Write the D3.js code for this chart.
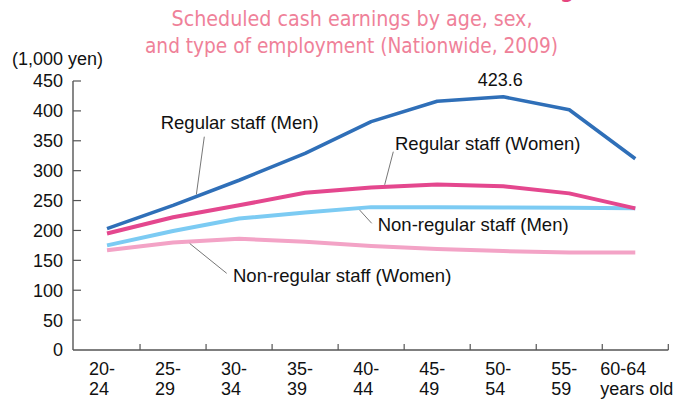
<!DOCTYPE html>
<html>
<head>
<meta charset="utf-8">
<script src="https://cdn.jsdelivr.net/npm/d3@7"></script>
<style>
    body { margin: 0; background: #fff; }
    svg { display: block; font-family: "Liberation Sans", Arial, sans-serif; }
</style>
</head>
<body>
<svg width="691" height="400"></svg>
<script>
// age groups on the x axis (two text lines each)
let ageGroups = ["20-24", "25-29", "30-34", "35-39", "40-44", "45-49", "50-54", "55-59", "60-64"];
let ageLine1 = ["20-", "25-", "30-", "35-", "40-", "45-", "50-", "55-", "60-64"];
let ageLine2 = ["24", "29", "34", "39", "44", "49", "54", "59", "years old"];

// scheduled cash earnings, 1,000 yen
let regularMen = [203, 242, 284, 329, 382, 416, 423.6, 402, 320];
let regularWomen = [195, 222, 242, 263, 272, 277, 274, 262, 237];
let nonRegularMen = [175, 199, 220, 230, 239, 239, 238.5, 238, 237];
let nonRegularWomen = [167, 180, 186, 181, 174, 169, 165.5, 163, 163];

let seriesNames = ["Regular staff (Men)", "Regular staff (Women)", "Non-regular staff (Men)", "Non-regular staff (Women)"];
let yTicks = [0, 50, 100, 150, 200, 250, 300, 350, 400, 450];

let series = [
    { name: seriesNames[3], values: nonRegularWomen, color: "#f3a3c6", width: 4 },
    { name: seriesNames[2], values: nonRegularMen, color: "#7ccbf3", width: 4 },
    { name: seriesNames[1], values: regularWomen, color: "#e4478e", width: 4 },
    { name: seriesNames[0], values: regularMen, color: "#2f6fb8", width: 3.6 }
];

var svg = d3.select("svg");

var x = d3.scaleBand()
    .domain(ageGroups)
    .range([74, 668.3]);

var y = d3.scaleLinear()
    .domain([0, 450])
    .range([350, 81]);

function cx(i) {
    return x(ageGroups[i]) + x.bandwidth() / 2;
}

// title
var title = svg.append("g")
    .attr("fill", "#ef8199")
    .attr("font-family", "'Liberation Sans Narrow', 'DejaVu Sans Condensed', sans-serif")
    .attr("font-size", 21);

title.append("text")
    .attr("x", 567).attr("y", -2)
    .attr("text-anchor", "middle")
    .attr("font-weight", "bold")
    .attr("fill", "#e5457f")
    .attr("font-size", 22)
    .text("g");

title.append("text")
    .attr("x", 171.5).attr("y", 26)
    .attr("textLength", 361)
    .attr("lengthAdjust", "spacingAndGlyphs")
    .text("Scheduled cash earnings by age, sex,");

title.append("text")
    .attr("x", 145).attr("y", 53)
    .attr("textLength", 413)
    .attr("lengthAdjust", "spacingAndGlyphs")
    .text("and type of employment (Nationwide, 2009)");

// unit
svg.append("text")
    .attr("x", 12).attr("y", 65)
    .attr("font-size", 18)
    .attr("fill", "#111")
    .text("(1,000 yen)");

// y axis
var yAxis = svg.append("g");
yAxis.append("line")
    .attr("x1", 73).attr("x2", 73)
    .attr("y1", y(450)).attr("y2", y(0))
    .attr("stroke", "#555").attr("stroke-width", 1.4);

yAxis.selectAll(".ytick")
    .data(yTicks.filter(function (d) { return d > 0; }))
    .join("line")
    .attr("class", "ytick")
    .attr("x1", 73).attr("x2", 81)
    .attr("y1", function (d) { return y(d); })
    .attr("y2", function (d) { return y(d); })
    .attr("stroke", "#555").attr("stroke-width", 1.2);

yAxis.selectAll(".ylabel")
    .data(yTicks)
    .join("text")
    .attr("class", "ylabel")
    .attr("x", 63)
    .attr("y", function (d) { return y(d); })
    .attr("dy", "0.36em")
    .attr("text-anchor", "end")
    .attr("font-size", 18)
    .attr("fill", "#111")
    .text(function (d) { return d; });

// x axis
var xAxis = svg.append("g");
xAxis.append("line")
    .attr("x1", 73).attr("x2", x.range()[1])
    .attr("y1", y(0)).attr("y2", y(0))
    .attr("stroke", "#555").attr("stroke-width", 1.4);

xAxis.selectAll(".xtick")
    .data(ageGroups)
    .join("line")
    .attr("class", "xtick")
    .attr("x1", function (d) { return x(d) + x.bandwidth(); })
    .attr("x2", function (d) { return x(d) + x.bandwidth(); })
    .attr("y1", y(0)).attr("y2", y(0) - 6)
    .attr("stroke", "#555").attr("stroke-width", 1.2);

var xLabels = xAxis.selectAll(".xlabel")
    .data(ageGroups)
    .join("text")
    .attr("class", "xlabel")
    .attr("font-size", 18)
    .attr("fill", "#111")
    .attr("x", function (d, i) { return x(d) + (i === ageGroups.length - 1 ? -2 : 15); });

xLabels.append("tspan")
    .attr("y", 375)
    .text(function (d, i) { return ageLine1[i]; });

xLabels.append("tspan")
    .attr("x", function (d, i) { return x(d) + (i === ageGroups.length - 1 ? -2 : 15); })
    .attr("y", 395)
    .text(function (d, i) { return ageLine2[i]; });

// lines
var line = d3.line()
    .x(function (d, i) { return cx(i); })
    .y(function (d) { return y(d); });

svg.append("g")
    .selectAll("path")
    .data(series)
    .join("path")
    .attr("d", function (d) { return line(d.values); })
    .attr("fill", "none")
    .attr("stroke", function (d) { return d.color; })
    .attr("stroke-width", function (d) { return d.width; })
    .attr("stroke-linejoin", "round");

// peak value
var peak = d3.maxIndex(regularMen);
svg.append("text")
    .attr("x", cx(peak) - 3)
    .attr("y", y(regularMen[peak]) - 11)
    .attr("text-anchor", "middle")
    .attr("font-size", 18)
    .attr("fill", "#111")
    .text(regularMen[peak]);

// series labels with leader lines; f = fractional position along the series
function valueAt(values, f) {
    let i = Math.floor(f);
    let t = f - i;
    return values[i] + (values[i + 1] - values[i]) * t;
}

let annotations = [
    { name: seriesNames[0], values: regularMen, tx: 160.7, ty: 129.3, lx: 204.3, ly: 136.7, f: 1.353, off: -2 },
    { name: seriesNames[1], values: regularWomen, tx: 395, ty: 150, lx: 393.3, ly: 151.7, f: 4.205, off: -2 },
    { name: seriesNames[2], values: nonRegularMen, tx: 377.7, ty: 230.7, lx: 371.7, ly: 223.3, f: 3.826, off: 2 },
    { name: seriesNames[3], values: nonRegularWomen, tx: 233, ty: 281.7, lx: 226.7, ly: 273.3, f: 1.252, off: 2 }
];

var notes = svg.append("g");

notes.selectAll("line")
    .data(annotations)
    .join("line")
    .attr("x1", function (d) { return d.lx; })
    .attr("y1", function (d) { return d.ly; })
    .attr("x2", function (d) { return x.range()[0] + x.step() * (d.f + 0.5); })
    .attr("y2", function (d) { return y(valueAt(d.values, d.f)) + d.off; })
    .attr("stroke", "#666")
    .attr("stroke-width", 0.9);

notes.selectAll("text")
    .data(annotations)
    .join("text")
    .attr("x", function (d) { return d.tx; })
    .attr("y", function (d) { return d.ty; })
    .attr("font-size", 18.5)
    .attr("fill", "#111")
    .text(function (d) { return d.name; });
</script>
</body>
</html>
